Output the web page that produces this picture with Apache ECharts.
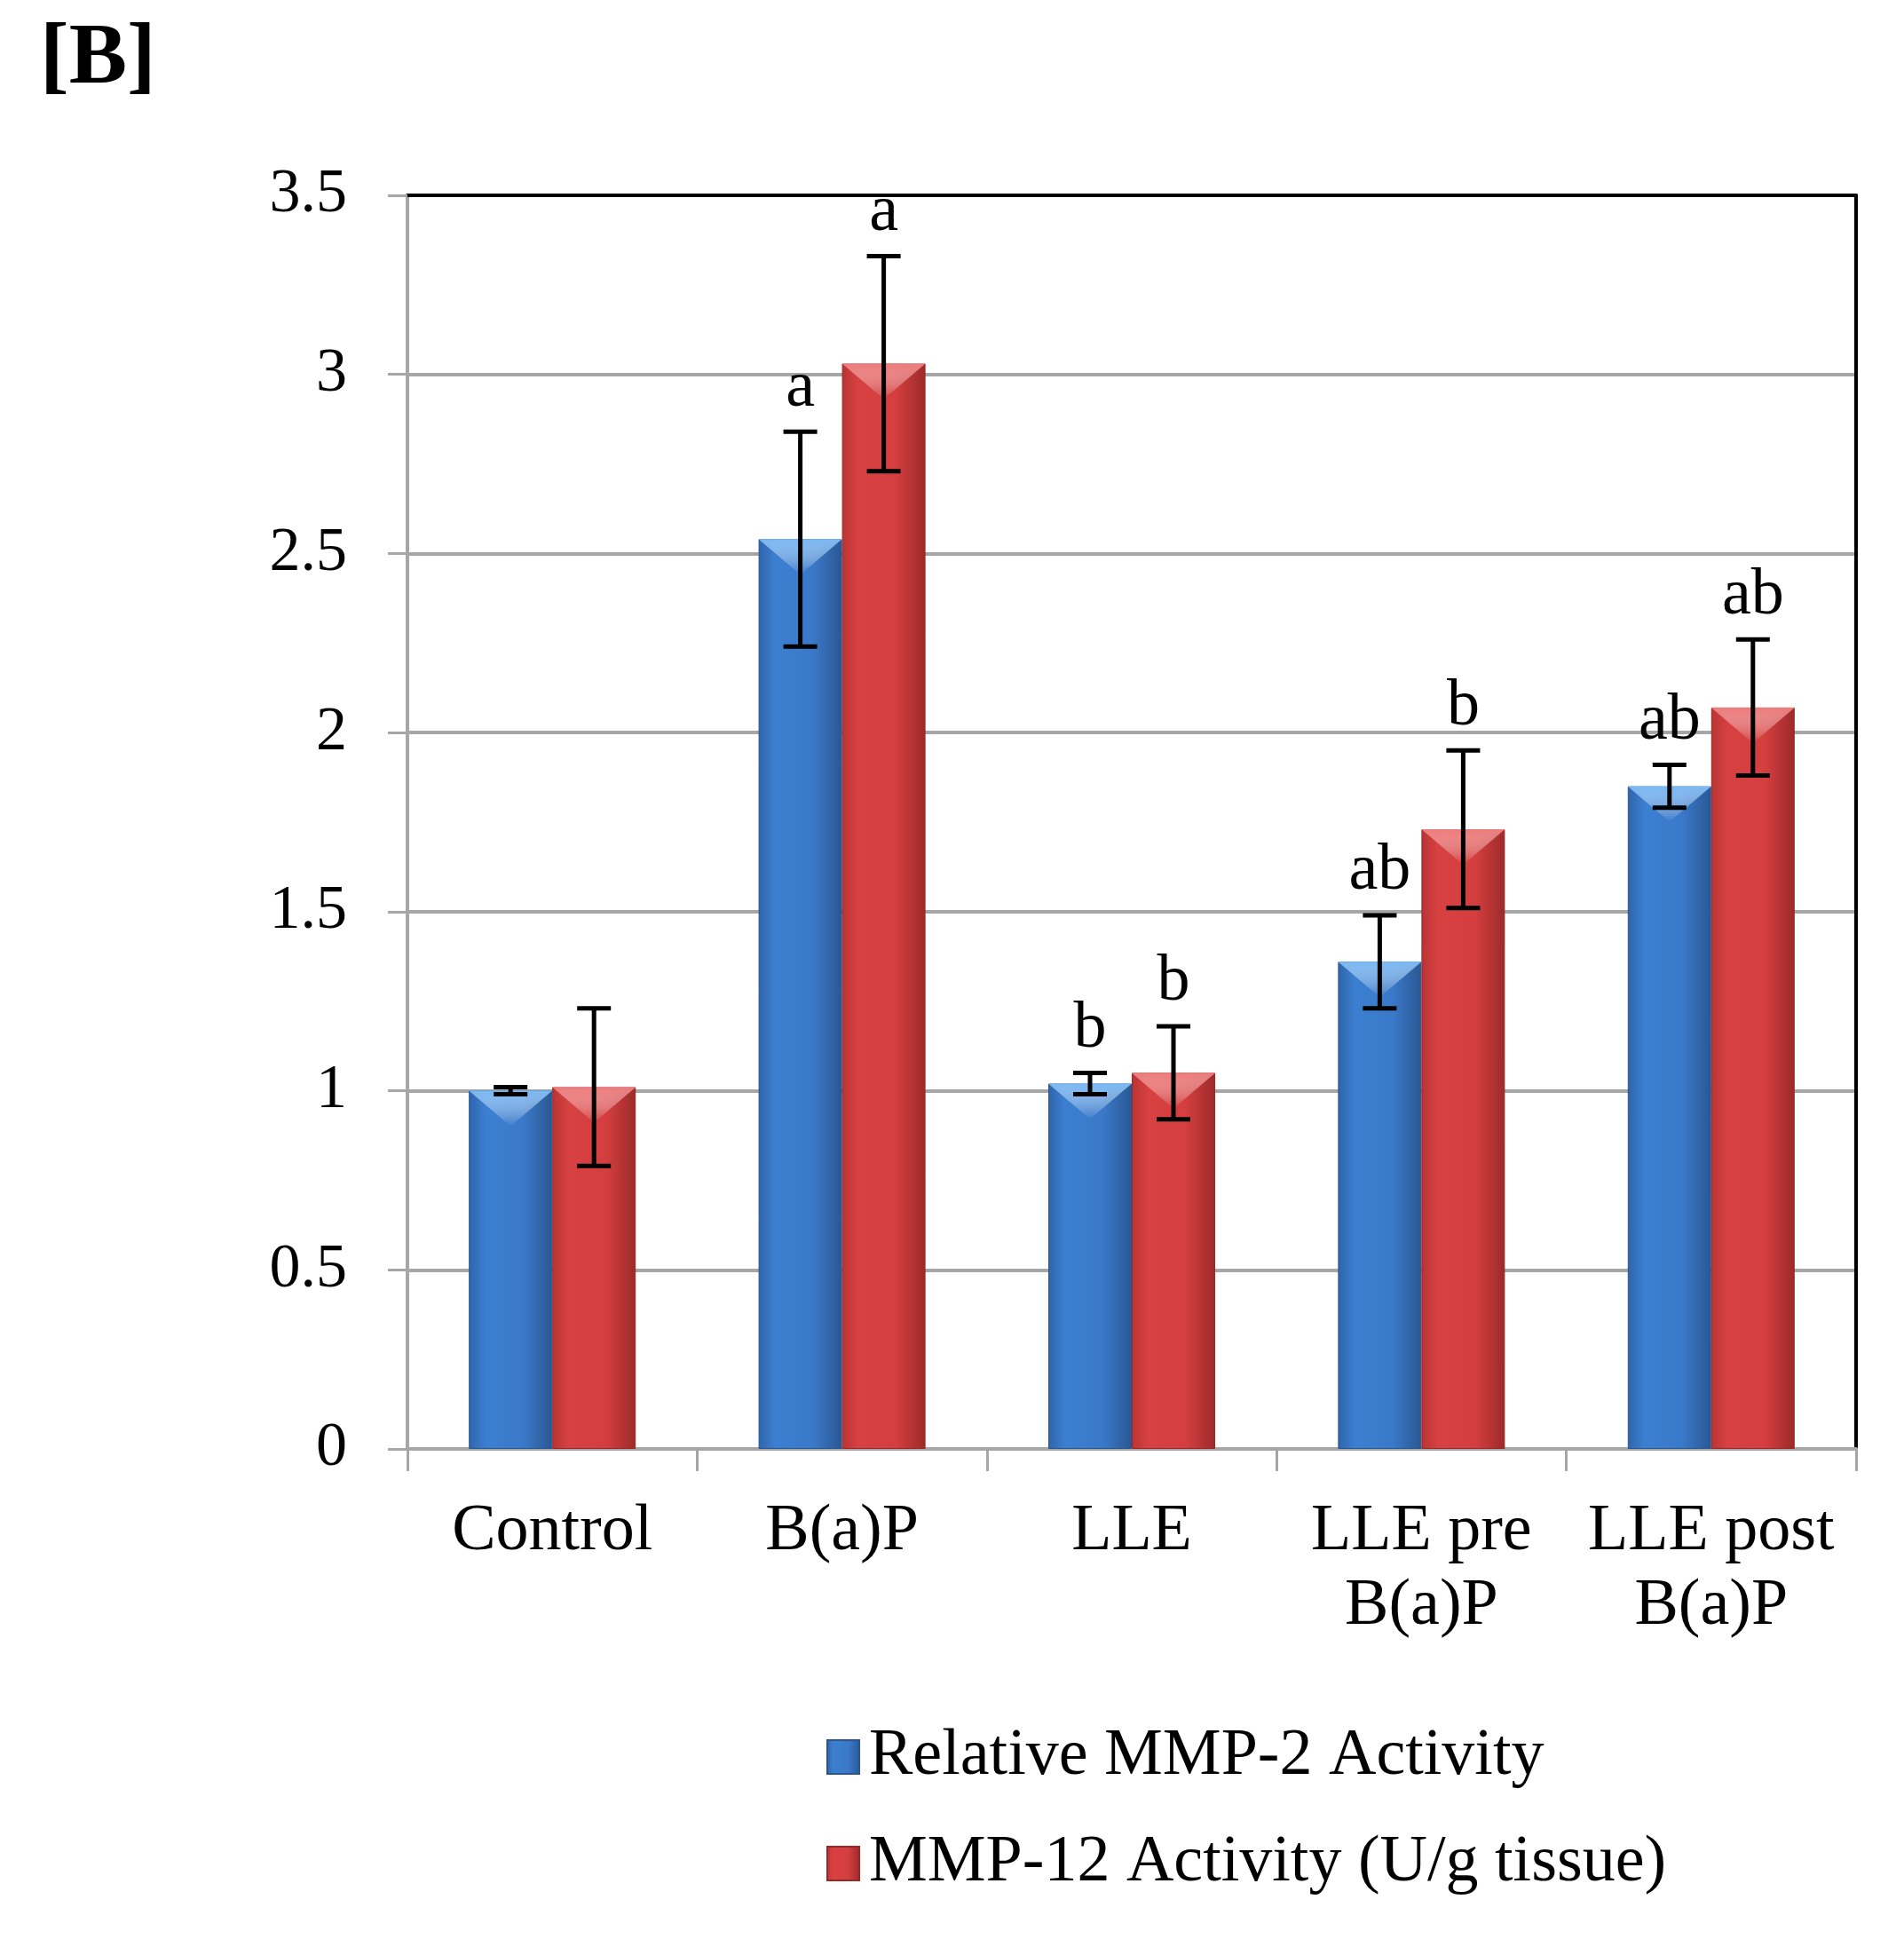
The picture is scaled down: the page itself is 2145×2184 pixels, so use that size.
<!DOCTYPE html>
<html>
<head>
<meta charset="utf-8">
<script src="https://cdn.jsdelivr.net/npm/echarts@6/dist/echarts.min.js"></script>
<style>
html,body{margin:0;padding:0;background:#fff;}
#chart{width:2145px;height:2184px;}
</style>
</head>
<body>
<div id="chart"></div>
<script>
const categories = ['Control', 'B(a)P', 'LLE', 'LLE pre\nB(a)P', 'LLE post\nB(a)P'];
const seriesNames = ['Relative MMP-2 Activity', 'MMP-12 Activity (U/g tissue)'];
const mmp2 = [1.00, 2.54, 1.02, 1.36, 1.85];
const mmp2Err = [0.01, 0.30, 0.03, 0.13, 0.06];
const mmp12 = [1.01, 3.03, 1.05, 1.73, 2.07];
const mmp12Err = [0.22, 0.30, 0.13, 0.22, 0.19];
const mmp2Letters = ['', 'a', 'b', 'ab', 'ab'];
const mmp12Letters = ['', 'a', 'b', 'b', 'ab'];
const yTicks = { min: 0, max: 3.5, interval: 0.5 };

const FONT = '"Liberation Serif", "Times New Roman", serif';
const BAR_W = 94;

const blueFill = new echarts.graphic.LinearGradient(0, 0, 1, 0, [
  { offset: 0, color: '#2f64aa' }, { offset: 0.2, color: '#3c7fd0' },
  { offset: 0.65, color: '#3a79c9' }, { offset: 1, color: '#2a5793' }
]);
const redFill = new echarts.graphic.LinearGradient(0, 0, 1, 0, [
  { offset: 0, color: '#b83434' }, { offset: 0.2, color: '#d84141' },
  { offset: 0.65, color: '#d43e3e' }, { offset: 1, color: '#9c2a2a' }
]);

function errorData(vals, errs, letters) {
  return vals.map((v, i) => [i, v, errs[i], letters[i]]);
}

const letters = { 2: mmp2Letters, 3: mmp12Letters };

function makeErrRender(side, lightColor) {
  return function (params, api) {
    const i = api.value(0);
    const v = api.value(1);
    const e = api.value(2);
    const letter = letters[params.seriesIndex][i];
    const top = api.coord([i, v]);
    const hi = api.coord([i, v + e]);
    const lo = api.coord([i, v - e]);
    const x = top[0] + side * BAR_W / 2;
    const capHalf = 19;
    const st = { stroke: '#000', lineWidth: 5 };
    const children = [
      { type: 'polygon', shape: { points: [[x - BAR_W / 2, top[1]], [x + BAR_W / 2, top[1]], [x, top[1] + 40]] },
        style: { fill: new echarts.graphic.LinearGradient(0, 0, 0, 1, [
          { offset: 0, color: lightColor }, { offset: 1, color: 'rgba(255,255,255,0)' }]) } },
      { type: 'line', shape: { x1: x, y1: hi[1], x2: x, y2: lo[1] }, style: st },
      { type: 'line', shape: { x1: x - capHalf, y1: hi[1], x2: x + capHalf, y2: hi[1] }, style: st },
      { type: 'line', shape: { x1: x - capHalf, y1: lo[1], x2: x + capHalf, y2: lo[1] }, style: st }
    ];
    if (letter) {
      children.push({ type: 'text', style: { text: letter, x: x, y: hi[1] - 12,
        align: 'center', verticalAlign: 'bottom', textAlign: 'center', textVerticalAlign: 'bottom',
        fontSize: 74, fontFamily: FONT, fill: '#000' } });
    }
    return { type: 'group', children: children };
  };
}

const chart = echarts.init(document.getElementById('chart'));
chart.setOption({
  backgroundColor: '#fff',
  animation: false,
  title: { text: '[B]', left: 40, top: 14,
    textStyle: { fontFamily: FONT, fontWeight: 'bold', fontSize: 98, color: '#000' } },
  grid: { left: 459, right: 54, top: 220, bottom: 552, containLabel: false },
  legend: {
    data: seriesNames, orient: 'vertical', left: 926, top: 1933,
    itemWidth: 36, itemHeight: 38, itemGap: 38, icon: 'rect',
    textStyle: { fontFamily: FONT, fontSize: 74, color: '#000', lineHeight: 82, padding: [0, 0, 0, 6] }
  },
  xAxis: [{
    type: 'category', data: categories,
    axisLine: { lineStyle: { color: '#a6a6a6', width: 4 } },
    axisTick: { show: true, length: 25, lineStyle: { color: '#a6a6a6', width: 3 } },
    axisLabel: { fontFamily: FONT, fontSize: 74, color: '#000', margin: 52, lineHeight: 84, interval: 0 }
  }, {
    type: 'category', data: categories, position: 'top',
    axisLine: { onZero: false, lineStyle: { color: '#000', width: 4 } },
    axisTick: { show: false }, axisLabel: { show: false }
  }],
  yAxis: [{
    type: 'value', min: yTicks.min, max: yTicks.max, interval: yTicks.interval,
    axisLine: { show: true, onZero: false, lineStyle: { color: '#a6a6a6', width: 4 } },
    axisTick: { show: true, length: 22, lineStyle: { color: '#a6a6a6', width: 3 } },
    splitLine: { lineStyle: { color: '#a6a6a6', width: 4 } },
    axisLabel: { fontFamily: FONT, fontSize: 70, color: '#000', margin: 68 }
  }, {
    type: 'value', min: yTicks.min, max: yTicks.max, interval: yTicks.interval, position: 'right',
    axisLine: { show: true, onZero: false, lineStyle: { color: '#000', width: 4 } },
    axisTick: { show: false }, axisLabel: { show: false }, splitLine: { show: false }
  }],
  series: [
    { name: seriesNames[0], type: 'bar', data: mmp2, barWidth: BAR_W, barGap: '0%',
      itemStyle: { color: blueFill, borderColor: '#2a5590', borderWidth: 1 } },
    { name: seriesNames[1], type: 'bar', data: mmp12, barWidth: BAR_W, barGap: '0%',
      itemStyle: { color: redFill, borderColor: '#982828', borderWidth: 1 } },
    { name: 'err2', type: 'custom', data: errorData(mmp2, mmp2Err, mmp2Letters),
      renderItem: makeErrRender(-1, '#79b9f5'), z: 5 },
    { name: 'err12', type: 'custom', data: errorData(mmp12, mmp12Err, mmp12Letters),
      renderItem: makeErrRender(1, '#ee7a7a'), z: 5 }
  ]
});
</script>
</body>
</html>
